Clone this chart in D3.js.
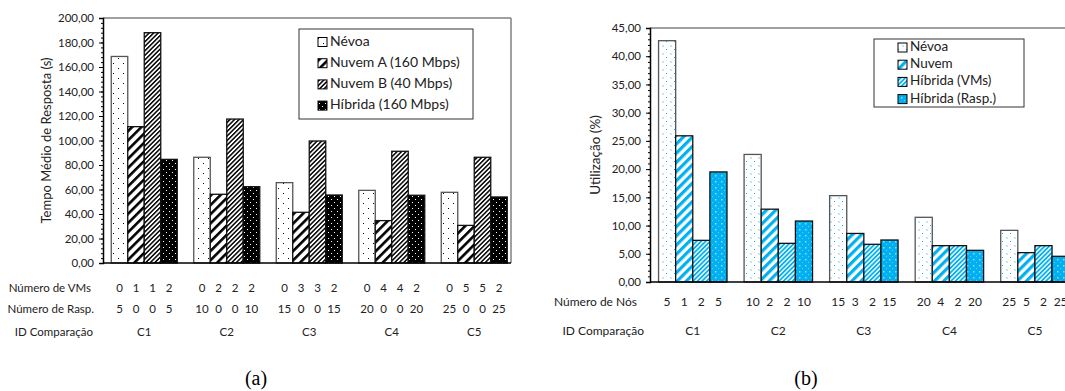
<!DOCTYPE html>
<html>
<head>
<meta charset="utf-8">
<script src="https://cdn.jsdelivr.net/npm/d3@7"></script>
<style>
  body { margin: 0; background: #fff; }
  text { font-family: Lato, "Open Sans", sans-serif; fill: #222; }
  .cap { font-family: "Liberation Serif", "DejaVu Serif", serif; fill: #000; }
</style>
</head>
<body>
<div id="chart"></div>
<script>
// comparison ids, shared by both panels
const ids = ['C1', 'C2', 'C3', 'C4', 'C5'];

// (a) mean response time (s)
const seriesA = ['Névoa', 'Nuvem A (160 Mbps)', 'Nuvem B (40 Mbps)', 'Híbrida (160 Mbps)'];
const nevoaA = [168.6, 86.3, 65.6, 59.3, 57.7];
const nuvemA = [111.3, 56.1, 41.4, 34.6, 30.7];
const nuvemB = [188.0, 117.5, 99.6, 91.2, 86.3];
const hibridaA = [84.6, 62.3, 55.5, 55.3, 53.9];
const numVMs = [[0, 1, 1, 2], [0, 2, 2, 2], [0, 3, 3, 2], [0, 4, 4, 2], [0, 5, 5, 2]];
const numRasp = [[5, 0, 0, 5], [10, 0, 0, 10], [15, 0, 0, 15], [20, 0, 0, 20], [25, 0, 0, 25]];
const ticksA = d3.range(0, 201, 20);

// (b) utilization (%)
const seriesB = ['Névoa', 'Nuvem', 'Híbrida (VMs)', 'Híbrida (Rasp.)'];
const nevoaB = [42.75, 22.6, 15.3, 11.46, 9.15];
const nuvemB2 = [25.9, 12.9, 8.6, 6.44, 5.2];
const hibridaVMs = [7.38, 6.85, 6.68, 6.44, 6.44];
const hibridaRasp = [19.5, 10.8, 7.44, 5.61, 4.55];
const numNos = [[5, 1, 2, 5], [10, 2, 2, 10], [15, 3, 2, 15], [20, 4, 2, 20], [25, 5, 2, 25]];
const ticksB = d3.range(0, 46, 5);

const W = 1065, H = 391;
const blue = '#00b0f0';
const fmt = d => d.toFixed(2).replace('.', ',');

const svg = d3.select('#chart').append('svg')
  .attr('width', W).attr('height', H);

// fill patterns
const defs = svg.append('defs');
function dots(id, size, bg, pts, color, r) {
  const p = defs.append('pattern').attr('id', id)
    .attr('patternUnits', 'userSpaceOnUse').attr('width', size).attr('height', size);
  p.append('rect').attr('width', size).attr('height', size).attr('fill', bg);
  pts.forEach(([x, y, c, s]) => {
    p.append('rect').attr('x', x).attr('y', y)
      .attr('width', s || r).attr('height', s || r).attr('fill', c || color);
  });
}
function stripes(id, period, w, bg, color) {
  const p = defs.append('pattern').attr('id', id)
    .attr('patternUnits', 'userSpaceOnUse').attr('width', period).attr('height', period)
    .attr('patternTransform', 'rotate(45)');
  p.append('rect').attr('width', period).attr('height', period).attr('fill', bg);
  p.append('rect').attr('width', w).attr('height', period).attr('fill', color);
}
dots('pA0', 10, '#fff', [[3, 3], [8, 8]], '#000', 1);
stripes('pA1', 6.5, 2.6, '#fff', '#000');
stripes('pA2', 3.2, 1.5, '#fff', '#000');
dots('pA3', 6, '#000', [[1, 1], [4, 4]], '#fff', 1);
dots('pB0', 8, '#fff', [[2, 1, blue, 1], [6, 5, '#bfe8f8', 2]], blue, 1);
stripes('pB1', 6.5, 3.2, '#fff', blue);
stripes('pB2', 3.2, 1.6, '#dff4fc', blue);
dots('pB3', 6, blue, [[1, 1, '#8fdcf8', 1.5], [4, 4, '#5fcdf5', 1]], blue, 1);

function drawPanel(cfg) {
  const { values, series, fills, left, bandRight, frameRight, top, bottom, ymax, ticks, minor } = cfg;
  const g = svg.append('g');
  const y = d3.scaleLinear().domain([0, ymax]).range([bottom, top]);
  const x0 = d3.scaleBand().domain(ids).range([left, bandRight])
    .paddingInner(0.2).paddingOuter(0.1);
  const x1 = d3.scaleBand().domain(d3.range(series.length)).range([0, x0.bandwidth()]);

  // frame: top and right edges in grey
  g.append('line').attr('x1', left).attr('x2', frameRight).attr('y1', top).attr('y2', top)
    .attr('stroke', '#808080').attr('stroke-width', 1.5);
  if (frameRight < W) {
    g.append('line').attr('x1', frameRight).attr('x2', frameRight).attr('y1', top).attr('y2', bottom)
      .attr('stroke', '#808080').attr('stroke-width', 1.5);
  }

  // bars
  ids.forEach((id, i) => {
    values.forEach((vals, s) => {
      g.append('rect')
        .attr('x', x0(id) + x1(s)).attr('width', x1.bandwidth())
        .attr('y', y(vals[i])).attr('height', bottom - y(vals[i]))
        .attr('fill', `url(#${fills[s]})`)
        .attr('stroke', s === 0 ? '#555' : '#111').attr('stroke-width', 1.3);
    });
  });

  // y axis, major + minor ticks
  g.append('g').attr('transform', `translate(${left},0)`)
    .call(d3.axisLeft(y).tickValues(d3.range(0, ymax + 0.001, minor)).tickSize(2).tickFormat(''))
    .call(a => a.select('.domain').remove());
  g.append('g').attr('transform', `translate(${left},0)`)
    .call(d3.axisLeft(y).tickValues(ticks).tickSize(4).tickPadding(5).tickFormat(fmt))
    .call(a => a.select('.domain').attr('stroke-width', 1.5))
    .call(a => a.selectAll('text').style('font-size', '11.5px').attr('fill', '#222'));

  // x baseline
  g.append('line').attr('x1', left).attr('x2', Math.min(frameRight, W)).attr('y1', bottom).attr('y2', bottom)
    .attr('stroke', '#000').attr('stroke-width', 1.5);

  // y title
  g.append('text')
    .attr('transform', `translate(${cfg.titleX},${(top + bottom) / 2}) rotate(-90)`)
    .attr('text-anchor', 'middle').attr('dominant-baseline', 'middle')
    .style('font-size', cfg.titleSize).text(cfg.title);

  // table rows under the axis
  cfg.rows.forEach(row => {
    g.append('text').attr('x', row.labelX).attr('y', row.y)
      .attr('text-anchor', 'end').attr('dominant-baseline', 'middle')
      .style('font-size', cfg.rowSize).text(row.label);
    ids.forEach((id, i) => {
      if (row.data) {
        row.data[i].forEach((v, s) => {
          g.append('text').attr('x', x0(id) + x1(s) + x1.bandwidth() / 2).attr('y', row.y)
            .attr('text-anchor', 'middle').attr('dominant-baseline', 'middle')
            .style('font-size', cfg.rowSize).text(v);
        });
      } else {
        g.append('text').attr('x', x0(id) + x0.bandwidth() / 2).attr('y', row.y)
          .attr('text-anchor', 'middle').attr('dominant-baseline', 'middle')
          .style('font-size', cfg.rowSize).text(id);
      }
    });
  });

  // legend
  const L = cfg.legend;
  g.append('rect').attr('x', L.x).attr('y', L.y).attr('width', L.w).attr('height', L.h)
    .attr('fill', '#fff').attr('stroke', '#333').attr('stroke-width', 1);
  series.forEach((name, s) => {
    const yy = L.y + L.first + s * L.step;
    g.append('rect').attr('x', L.sx).attr('y', yy - 4.5).attr('width', 9).attr('height', 9)
      .attr('fill', `url(#${fills[s]})`).attr('stroke', '#000').attr('stroke-width', 1);
    g.append('text').attr('x', L.sx + 12).attr('y', yy)
      .attr('dominant-baseline', 'middle').style('font-size', L.size).text(name);
  });

  svg.append('text').attr('class', 'cap').attr('x', cfg.capX).attr('y', 380)
    .attr('text-anchor', 'middle').attr('dominant-baseline', 'middle')
    .style('font-size', '20px').text(cfg.cap);
}

drawPanel({
  values: [nevoaA, nuvemA, nuvemB, hibridaA],
  series: seriesA,
  fills: ['pA0', 'pA1', 'pA2', 'pA3'],
  left: 103, bandRight: 515.5, frameRight: 511, top: 18, bottom: 263,
  ymax: 200, ticks: ticksA, minor: 4,
  title: 'Tempo Médio de Resposta (s)', titleX: 48, titleSize: '13px',
  rowSize: '11.5px',
  rows: [
    { label: 'Número de VMs', labelX: 91, y: 289, data: numVMs },
    { label: 'Número de Rasp.', labelX: 94, y: 310, data: numRasp },
    { label: 'ID Comparação', labelX: 93, y: 333 }
  ],
  legend: { x: 299, y: 29, w: 174, h: 90, sx: 318, first: 13, step: 21.2, size: '14px' },
  capX: 256, cap: '(a)'
});

drawPanel({
  values: [nevoaB, nuvemB2, hibridaVMs, hibridaRasp],
  series: seriesB,
  fills: ['pB0', 'pB1', 'pB2', 'pB3'],
  left: 650, bandRight: 1077.7, frameRight: 1080, top: 28, bottom: 282,
  ymax: 45, ticks: ticksB, minor: 1,
  title: 'Utilização (%)', titleX: 597, titleSize: '13.5px',
  rowSize: '12px',
  rows: [
    { label: 'Número de Nós', labelX: 637, y: 303, data: numNos },
    { label: 'ID Comparação', labelX: 644, y: 332 }
  ],
  legend: { x: 874, y: 39, w: 150, h: 68, sx: 898, first: 8.5, step: 17.2, size: '13.5px' },
  capX: 806, cap: '(b)'
});
</script>
</body>
</html>
